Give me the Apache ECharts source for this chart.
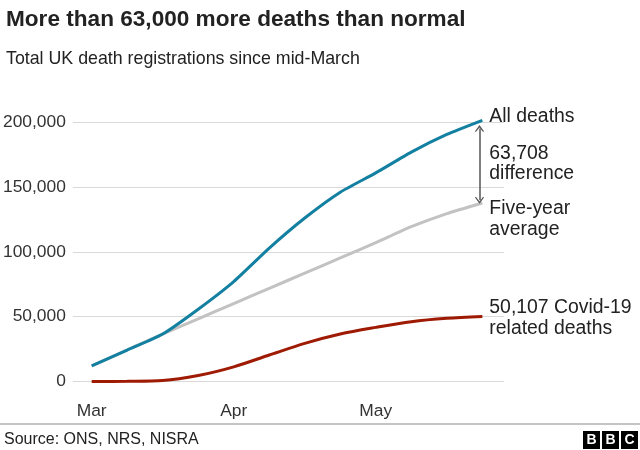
<!DOCTYPE html>
<html><head><meta charset="utf-8">
<script src="https://cdn.jsdelivr.net/npm/echarts@6/dist/echarts.min.js"></script>
<style>html,body{margin:0;padding:0;background:#fff}#c{width:640px;height:450px}</style>
</head><body><div id="c"></div>
<script>
// Weekly registration weeks (week ending)
const weeks = ['13 Mar','20 Mar','27 Mar','3 Apr','10 Apr','17 Apr','24 Apr','1 May','8 May','15 May','22 May','29 May'];
const monthLabels = ['Mar','Apr','May'];
const monthLabelWeeks = [0, 4, 8];
const yTicks = [0, 50000, 100000, 150000, 200000];
// Cumulative deaths
const allDeaths   = [12100, 24200, 36600, 55700, 77000, 102800, 126000, 145900, 160800, 176800, 190400, 201300];
const fiveYearAvg = [12100, 24300, 36600, 48300, 60100, 71800, 83500, 95200, 107000, 119300, 129400, 137600];
const covidDeaths = [0, 100, 700, 4600, 11300, 20400, 29400, 36600, 41700, 46100, 48700, 50107];
const difference = 63708;
const labelAll = 'All deaths';
const labelDiff = '63,708\ndifference';
const labelAvg = 'Five-year\naverage';
const labelCovid = '50,107 Covid-19\nrelated deaths';

const FONT = '"Liberation Sans", Arial, Helvetica, sans-serif';
const chart = echarts.init(document.getElementById('c'), null, {renderer: 'canvas'});
const last = weeks.length - 1;
const fmt = v => v.toLocaleString('en-GB');
const toPts = arr => arr.map((v, i) => [i, v]);

const option = {
  animation: false,
  backgroundColor: '#fff',
  title: [
    {text: 'More than 63,000 more deaths than normal', left: 1, top: 3,
     textStyle: {fontFamily: FONT, fontSize: 22.6, fontWeight: 'bold', color: '#222'}},
    {text: 'Total UK death registrations since mid-March', left: 1, top: 45,
     textStyle: {fontFamily: FONT, fontSize: 17.8, fontWeight: 'normal', color: '#222'}}
  ],
  grid: {left: 70, right: 136, top: 122, bottom: 68.5, containLabel: false},
  xAxis: {
    type: 'value', min: -0.53, max: 11.61,
    axisLine: {show: false}, axisTick: {show: false}, splitLine: {show: false},
    axisLabel: {
      customValues: monthLabelWeeks,
      formatter: v => monthLabels[monthLabelWeeks.indexOf(Math.round(v))] || '',
      margin: 21, fontFamily: FONT, fontSize: 17.4, color: '#333'
    }
  },
  yAxis: {
    type: 'value', min: yTicks[0], max: yTicks[yTicks.length - 1], interval: yTicks[1] - yTicks[0],
    axisLine: {show: false}, axisTick: {show: false},
    splitLine: {lineStyle: {color: '#d9d9d9', width: 1}},
    axisLabel: {formatter: v => fmt(v), margin: 7, fontFamily: FONT, fontSize: 17.4, color: '#333'}
  },
  series: [
    {name: 'Five-year average', type: 'line', data: toPts(fiveYearAvg), showSymbol: false, clip: false,
     smooth: 0.2, lineStyle: {color: '#c2c2c2', width: 3}, z: 2},
    {name: 'Covid-19', type: 'line', data: toPts(covidDeaths), showSymbol: false, clip: false,
     smooth: 0.3, lineStyle: {color: '#9e1a02', width: 3}, z: 3},
    {name: 'All deaths', type: 'line', data: toPts(allDeaths), showSymbol: false, clip: false,
     smooth: 0.2, lineStyle: {color: '#1380a1', width: 3}, z: 4,
     markLine: {
       silent: true, animation: false,
       symbol: ['path://M5,0 L10,7 L9,8 L5,2.6 L1,8 L0,7 Z', 'path://M5,0 L10,7 L9,8 L5,2.6 L1,8 L0,7 Z'],
       symbolSize: [9, 7],
       lineStyle: {color: '#555', width: 1.5, type: 'solid'},
       label: {show: false},
       data: [[{coord: [last - 0.08, allDeaths[last] - 6400]}, {coord: [last - 0.08, fiveYearAvg[last] + 2100]}]]
     }}
  ]
};
chart.setOption(option);

function addLabels() {
  const p = (v) => chart.convertToPixel({gridIndex: 0}, [last, v]);
  const pa = p(allDeaths[last]), pg = p(fiveYearAvg[last]), pc = p(covidDeaths[last]);
  const tx = pa[0] + 7;
  const st = (text) => ({text, fontFamily: FONT, fontSize: 19.4, fill: '#222', lineHeight: 20.5,
                          align: 'left', verticalAlign: 'middle'});
  chart.setOption({graphic: [
    {type: 'text', x: tx, y: pa[1] - 4, style: st(labelAll)},
    {type: 'text', x: tx, y: (pa[1] + pg[1]) / 2 + 2, style: st(labelDiff)},
    {type: 'text', x: tx, y: pg[1] + 16, style: st(labelAvg)},
    {type: 'text', x: tx, y: pc[1] + 1.5, style: st(labelCovid)},
    // footer
    {type: 'rect', shape: {x: 0, y: 423.5, width: 640, height: 1}, style: {fill: '#8a8a8a'}},
    {type: 'text', x: 4, y: 440, style: {text: 'Source: ONS, NRS, NISRA', fontFamily: FONT, fontSize: 16,
      fill: '#222', verticalAlign: 'middle'}},
    {type: 'group', x: 583, y: 431, children: ['B', 'B', 'C'].flatMap((ch, i) => [
      {type: 'rect', shape: {x: i * 19, y: 0, width: 17, height: 18}, style: {fill: '#000'}},
      {type: 'text', x: i * 19 + 8.5, y: 9.5, style: {text: ch, fontFamily: FONT, fontWeight: 'bold',
        fontSize: 14, fill: '#fff', align: 'center', verticalAlign: 'middle'}}
    ])}
  ]});
}
addLabels();
</script>
</body></html>
